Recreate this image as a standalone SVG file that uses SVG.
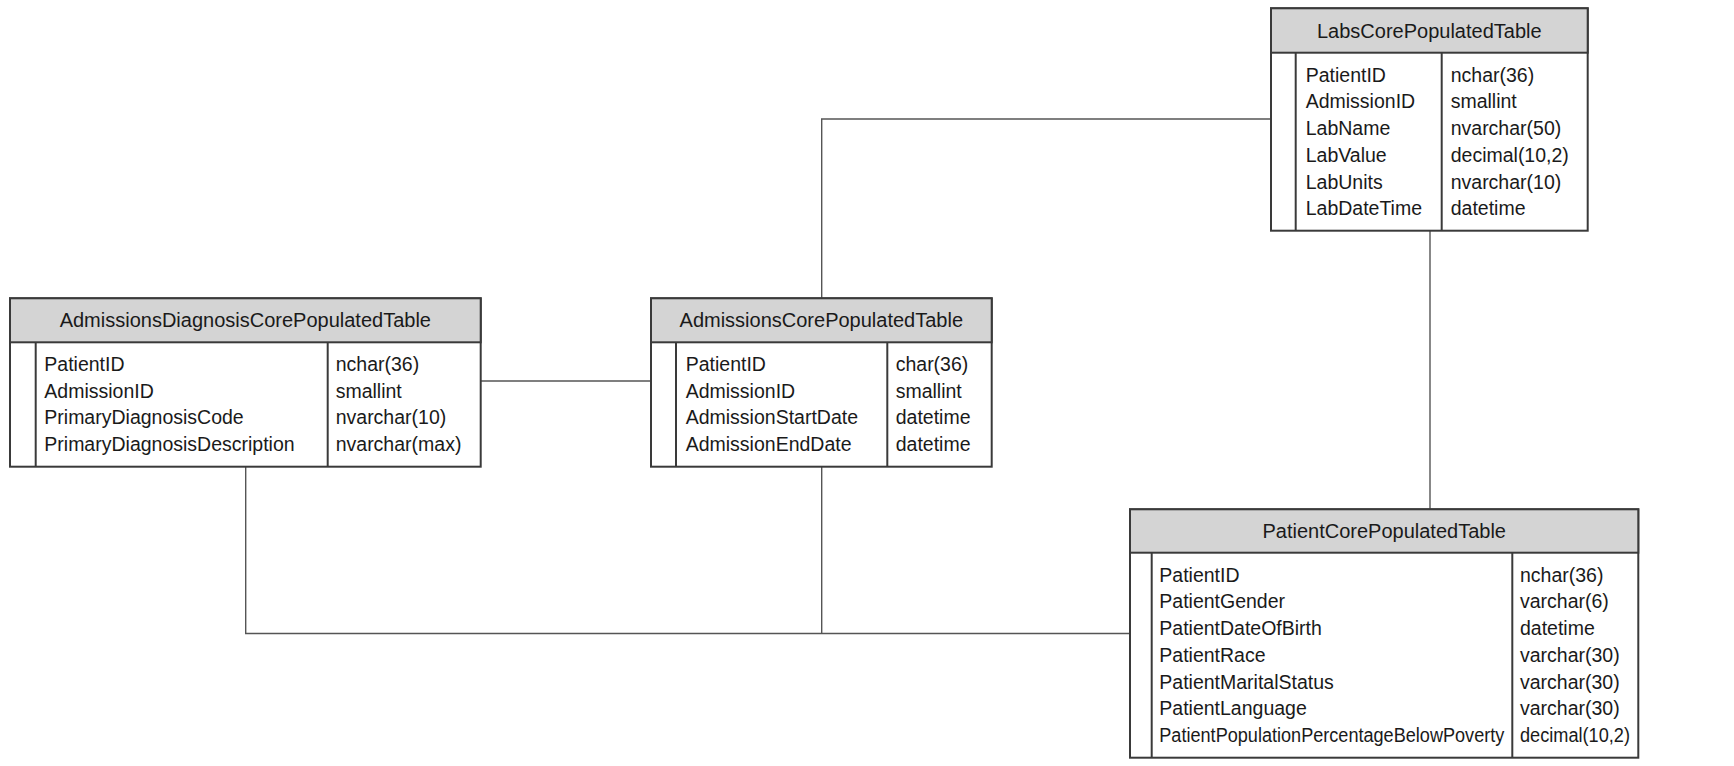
<svg xmlns="http://www.w3.org/2000/svg" width="1734" height="766" viewBox="0 0 1734 766">
  <style>
    .frame { fill: #ffffff; stroke: #3a3a3a; stroke-width: 2; }
    .head { fill: #d4d4d4; stroke: #3a3a3a; stroke-width: 2; }
    .rule { stroke: #3a3a3a; stroke-width: 2; fill: none; }
    .link { stroke: #555555; stroke-width: 1.4; fill: none; }
    text { font-family: "Liberation Sans", Arial, sans-serif; font-size: 19.5px; fill: #1a1a1a; }
    .title { text-anchor: middle; font-size: 20px; }
  </style>
  <rect width="1734" height="766" fill="#ffffff"/>

  <!-- relationships -->
  <g id="connectors">
    <polyline class="link" points="1271,119 821.7,119 821.7,298.3"/>
    <line class="link" x1="1430" y1="230.7" x2="1430" y2="509.3"/>
    <line class="link" x1="480.7" y1="381" x2="651" y2="381"/>
    <polyline class="link" points="245.7,466.7 245.7,633.5 1130,633.5"/>
    <line class="link" x1="821.7" y1="466.7" x2="821.7" y2="633.5"/>
  </g>

  <!-- LabsCorePopulatedTable -->
  <g id="labs">
    <rect class="frame" x="1271" y="8.3" width="316.7" height="222.4"/>
    <rect class="head" x="1271" y="8.3" width="316.7" height="44.4"/>
    <line class="rule" x1="1295.7" y1="52.7" x2="1295.7" y2="230.7"/>
    <line class="rule" x1="1441.7" y1="52.7" x2="1441.7" y2="230.7"/>
    <text class="title" x="1429.3" y="37.5">LabsCorePopulatedTable</text>
    <text x="1305.7" y="81.7">PatientID</text>
    <text x="1305.7" y="108.4">AdmissionID</text>
    <text x="1305.7" y="135.1">LabName</text>
    <text x="1305.7" y="161.8">LabValue</text>
    <text x="1305.7" y="188.5">LabUnits</text>
    <text x="1305.7" y="215.2">LabDateTime</text>
    <text x="1450.7" y="81.7">nchar(36)</text>
    <text x="1450.7" y="108.4">smallint</text>
    <text x="1450.7" y="135.1">nvarchar(50)</text>
    <text x="1450.7" y="161.8">decimal(10,2)</text>
    <text x="1450.7" y="188.5">nvarchar(10)</text>
    <text x="1450.7" y="215.2">datetime</text>
  </g>

  <!-- AdmissionsDiagnosisCorePopulatedTable -->
  <g id="admissions-diagnosis">
    <rect class="frame" x="10" y="298.3" width="470.7" height="168.4"/>
    <rect class="head" x="10" y="298.3" width="470.7" height="44"/>
    <line class="rule" x1="35.7" y1="342.3" x2="35.7" y2="466.7"/>
    <line class="rule" x1="327.7" y1="342.3" x2="327.7" y2="466.7"/>
    <text class="title" x="245.3" y="327">AdmissionsDiagnosisCorePopulatedTable</text>
    <text x="44.3" y="371">PatientID</text>
    <text x="44.3" y="397.7">AdmissionID</text>
    <text x="44.3" y="424.4">PrimaryDiagnosisCode</text>
    <text x="44.3" y="451.1">PrimaryDiagnosisDescription</text>
    <text x="335.7" y="371">nchar(36)</text>
    <text x="335.7" y="397.7">smallint</text>
    <text x="335.7" y="424.4">nvarchar(10)</text>
    <text x="335.7" y="451.1">nvarchar(max)</text>
  </g>

  <!-- AdmissionsCorePopulatedTable -->
  <g id="admissions">
    <rect class="frame" x="651" y="298.3" width="340.7" height="168.4"/>
    <rect class="head" x="651" y="298.3" width="340.7" height="44"/>
    <line class="rule" x1="676" y1="342.3" x2="676" y2="466.7"/>
    <line class="rule" x1="887.3" y1="342.3" x2="887.3" y2="466.7"/>
    <text class="title" x="821.3" y="327">AdmissionsCorePopulatedTable</text>
    <text x="685.7" y="371">PatientID</text>
    <text x="685.7" y="397.7">AdmissionID</text>
    <text x="685.7" y="424.4">AdmissionStartDate</text>
    <text x="685.7" y="451.1">AdmissionEndDate</text>
    <text x="895.7" y="371">char(36)</text>
    <text x="895.7" y="397.7">smallint</text>
    <text x="895.7" y="424.4">datetime</text>
    <text x="895.7" y="451.1">datetime</text>
  </g>

  <!-- PatientCorePopulatedTable -->
  <g id="patient">
    <rect class="frame" x="1130" y="509.3" width="508.3" height="248.4"/>
    <rect class="head" x="1130" y="509.3" width="508.3" height="43.4"/>
    <line class="rule" x1="1151.7" y1="552.7" x2="1151.7" y2="757.7"/>
    <line class="rule" x1="1512.3" y1="552.7" x2="1512.3" y2="757.7"/>
    <text class="title" x="1384.2" y="537.5">PatientCorePopulatedTable</text>
    <text x="1159.3" y="581.7">PatientID</text>
    <text x="1159.3" y="608.4">PatientGender</text>
    <text x="1159.3" y="635.1">PatientDateOfBirth</text>
    <text x="1159.3" y="661.8">PatientRace</text>
    <text x="1159.3" y="688.5">PatientMaritalStatus</text>
    <text x="1159.3" y="715.2">PatientLanguage</text>
    <text x="1159.3" y="741.9" textLength="345" lengthAdjust="spacingAndGlyphs">PatientPopulationPercentageBelowPoverty</text>
    <text x="1520" y="581.7">nchar(36)</text>
    <text x="1520" y="608.4">varchar(6)</text>
    <text x="1520" y="635.1">datetime</text>
    <text x="1520" y="661.8">varchar(30)</text>
    <text x="1520" y="688.5">varchar(30)</text>
    <text x="1520" y="715.2">varchar(30)</text>
    <text x="1520" y="741.9" textLength="110" lengthAdjust="spacingAndGlyphs">decimal(10,2)</text>
  </g>
</svg>
